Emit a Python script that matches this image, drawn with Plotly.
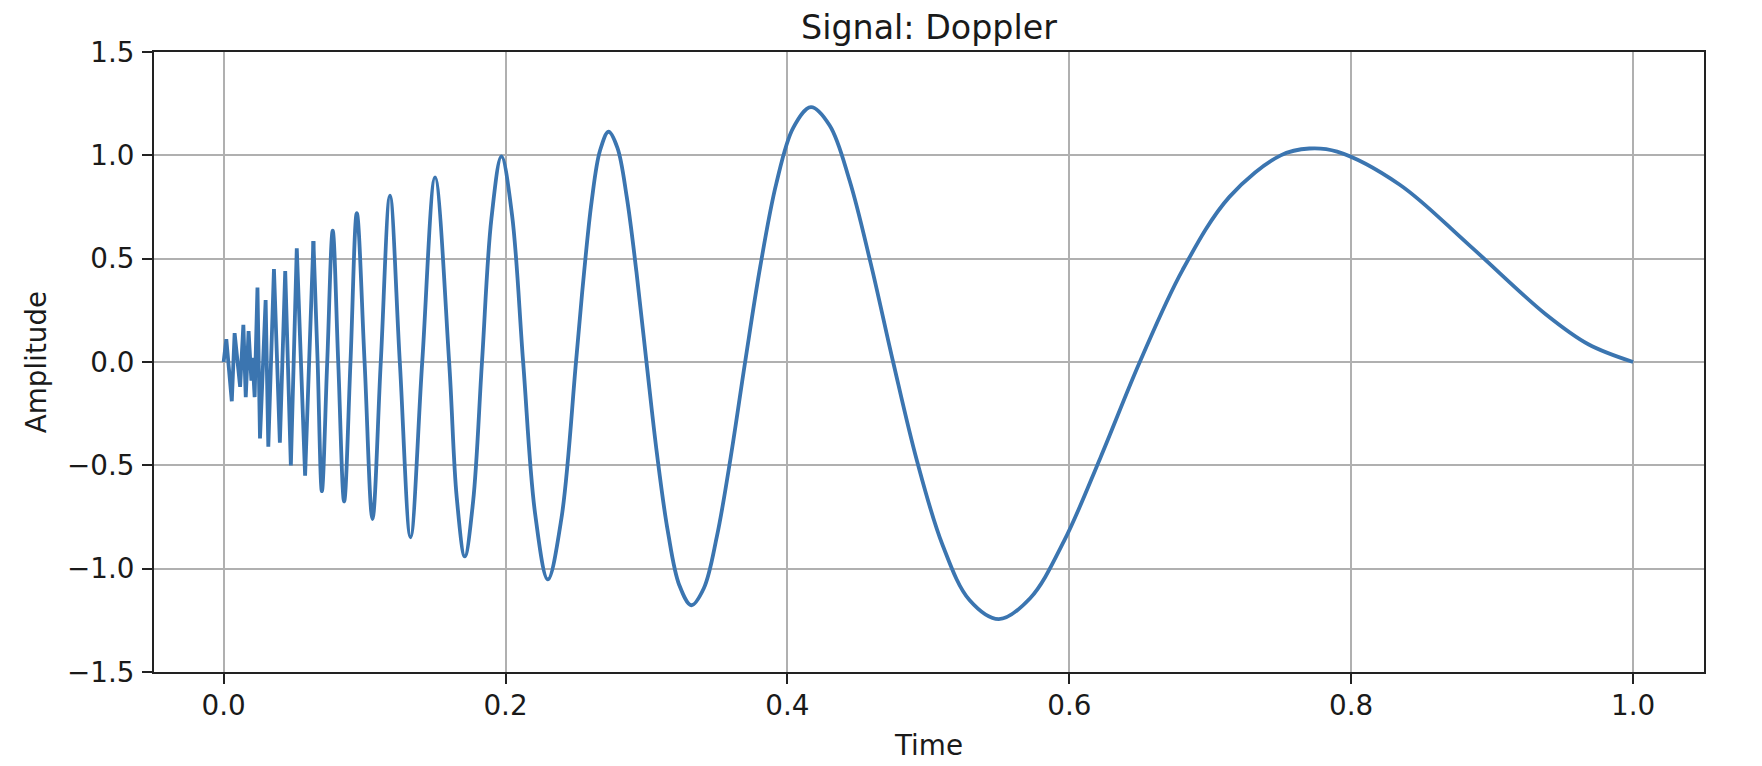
import plotly.graph_objects as go

# ---- data ----
# dense (aliased) start of the signal, drawn with straight segments
t_dense = [0.0, 0.0019, 0.0058, 0.0078, 0.0117, 0.0140, 0.0157, 0.0177, 0.0197,
           0.0205, 0.0220, 0.0240, 0.0258, 0.0298, 0.0317, 0.0357, 0.0399,
           0.0437, 0.0477, 0.0519, 0.0578, 0.0637]
y_dense = [0.0, 0.11, -0.19, 0.14, -0.12, 0.18, -0.17, 0.15, -0.09,
           0.02, -0.17, 0.36, -0.37, 0.30, -0.41, 0.45, -0.39,
           0.44, -0.50, 0.55, -0.55, 0.585]

# smoother part of the signal (extrema, zero crossings and shoulders)
t_smooth = [0.0637, 0.0667, 0.0697, 0.0735, 0.0774, 0.0813, 0.0855, 0.0900,
            0.0945, 0.1000, 0.1056, 0.1115, 0.1180, 0.1250, 0.1326, 0.1409,
            0.1500, 0.1600, 0.1654, 0.1711, 0.1770, 0.1833, 0.1900, 0.1971,
            0.2046, 0.2125, 0.2210, 0.2300, 0.2397, 0.2500,
            0.2555, 0.2611, 0.2670, 0.2731, 0.2794, 0.2860, 0.2929, 0.3000,
            0.3074, 0.3152, 0.3233, 0.3318, 0.3407, 0.3500, 0.3598, 0.3700,
            0.3808, 0.3921, 0.4041, 0.4167, 0.4300, 0.4441, 0.4591, 0.4750,
            0.4919, 0.5100, 0.5293, 0.5500, 0.5722, 0.5962, 0.6220, 0.6500,
            0.6804, 0.7136, 0.7500, 0.7703, 0.7900, 0.8342, 0.8833, 0.9382,
            0.9682, 1.0000]
y_smooth = [0.585, 0.0, -0.625, 0.0, 0.635, 0.0, -0.675, 0.0,
            0.72, 0.0, -0.76, 0.0, 0.805, 0.0, -0.848, 0.0,
            0.893, 0.0, -0.657, -0.941, -0.675, 0.0, 0.694, 0.995,
            0.713, 0.0, -0.734, -1.052, -0.755, 0.0,
            0.417, 0.777, 1.022, 1.114, 1.036, 0.799, 0.435, 0.0,
            -0.442, -0.821, -1.080, -1.177, -1.095, -0.843, -0.459, 0.0,
            0.465, 0.863, 1.133, 1.233, 1.144, 0.878, 0.477, 0.0,
            -0.478, -0.884, -1.153, -1.244, -1.143, -0.867, -0.464, 0.0,
            0.446, 0.799, 1.000, 1.033, 1.018, 0.859, 0.568, 0.230,
            0.086, 0.0]

x_tickvals = [0.0, 0.2, 0.4, 0.6, 0.8, 1.0]
x_ticktext = ["0.0", "0.2", "0.4", "0.6", "0.8", "1.0"]
y_tickvals = [-1.5, -1.0, -0.5, 0.0, 0.5, 1.0, 1.5]
y_ticktext = ["\u22121.5", "\u22121.0", "\u22120.5", "0.0", "0.5", "1.0", "1.5"]

LINE_COLOR = "#3b75b0"
FONT = "DejaVu Sans"
TXT = "#1a1a1a"

fig = go.Figure()
fig.add_trace(go.Scatter(x=t_dense, y=y_dense, mode="lines",
                         line=dict(color=LINE_COLOR, width=3.8, shape="linear", simplify=False),
                         showlegend=False, hoverinfo="x+y"))
fig.add_trace(go.Scatter(x=t_smooth, y=y_smooth, mode="lines",
                         line=dict(color=LINE_COLOR, width=3.8, shape="spline", smoothing=1.0,
                                   simplify=False),
                         showlegend=False, hoverinfo="x+y"))

axis_common = dict(
    showline=True, linecolor="#222222", linewidth=2, mirror=True,
    showgrid=True, gridcolor="#b0b0b0", gridwidth=2,
    zeroline=False,
    ticks="outside", ticklen=10, tickwidth=2, tickcolor="#222222",
    tickfont=dict(family=FONT, size=27.8, color=TXT),
    automargin=False,
)

fig.update_xaxes(range=[-0.0494, 1.0503], tickmode="array",
                 tickvals=x_tickvals, ticktext=x_ticktext,
                 ticklabelstandoff=-2,
                 title=dict(text="Time", font=dict(family=FONT, size=27.8, color=TXT),
                            standoff=14),
                 **axis_common)
fig.update_yaxes(range=[-1.5, 1.5], tickmode="array",
                 tickvals=y_tickvals, ticktext=y_ticktext,
                 ticklabelstandoff=2,
                 title=dict(text="Amplitude", font=dict(family=FONT, size=27.8, color=TXT),
                            standoff=12),
                 **axis_common)

# the page body adds an 8px offset, so the figure is 8px smaller and shifted
fig.update_layout(
    width=1754, height=758,
    margin=dict(l=146, r=58, t=44, b=94, pad=0),
    paper_bgcolor="white", plot_bgcolor="white",
    font=dict(family=FONT, color=TXT),
    title=dict(text="Signal: Doppler", x=0.5, xref="paper",
               y=1 - 19 / 758, yref="container", yanchor="middle", xanchor="center",
               font=dict(family=FONT, size=33.3, color=TXT)),
)

fig.write_html("out.html")
